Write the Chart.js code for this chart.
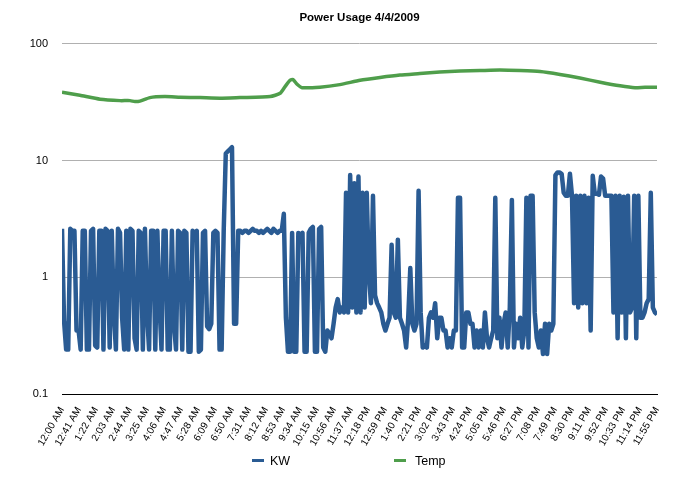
<!DOCTYPE html>
<html>
<head>
<meta charset="utf-8">
<title>Power Usage 4/4/2009</title>
<script src="https://cdn.jsdelivr.net/npm/chart.js@4.4.1/dist/chart.umd.min.js"></script>
<style>
  body { margin: 0; background: #fff; font-family: 'Liberation Sans', Arial, sans-serif; }
  #wrap { position: relative; width: 686px; height: 486px; }
  .swatch { position: absolute; top: 459px; width: 12px; height: 3px; }
  .legend-text { position: absolute; top: 453px; font-size: 12.5px; line-height: 16px; color: #000; }
</style>
</head>
<body>
<div id="wrap">
  <canvas id="powerChart" width="686" height="486"></canvas>
  <div class="swatch" style="left:252px; background:#2a5b93;"></div>
  <div class="legend-text" style="left:270px;">KW</div>
  <div class="swatch" style="left:394px; background:#4f9e4b;"></div>
  <div class="legend-text" style="left:415px;">Temp</div>
</div>
<script>
// one KW reading every 5 minutes, 12:00 AM .. 11:55 PM (one row per hour)
const SAMPLE_STEP = 5;
const kwValues = [
  2.6, 0.42, 0.24, 0.24, 2.6, 2.5, 2.5, 0.35, 0.35, 0.24, 2.5, 2.5,
  0.24, 0.24, 2.5, 2.6, 0.26, 0.25, 2.5, 2.5, 0.24, 2.6, 2.5, 0.25,
  2.5, 0.5, 0.24, 2.6, 2.4, 0.45, 0.24, 2.5, 0.24, 2.6, 2.5, 0.3,
  0.24, 2.5, 2.4, 0.24, 2.6, 0.5, 0.24, 2.5, 2.5, 0.24, 2.5, 0.6,
  0.24, 2.5, 2.5, 0.24, 0.24, 2.5, 0.4, 0.24, 2.5, 2.4, 0.24, 2.5,
  2.4, 0.23, 0.23, 2.5, 2.4, 2.5, 0.23, 0.24, 2.4, 2.5, 0.38, 0.36,
  0.4, 2.4, 2.5, 2.4, 0.24, 0.24, 2.5, 11.5, 12, 12.5, 13, 0.4,
  0.4, 2.5, 2.5, 2.4, 2.5, 2.5, 2.4, 2.5, 2.6, 2.5, 2.5, 2.4,
  2.5, 2.4, 2.5, 2.6, 2.5, 2.4, 2.6, 2.5, 2.4, 2.5, 2.5, 3.5,
  0.45, 0.23, 0.23, 2.4, 0.23, 0.23, 2.4, 2.3, 2.4, 0.23, 0.23, 2.4,
  2.6, 2.7, 0.23, 0.23, 2.6, 2.7, 0.25, 0.23, 0.35, 0.33, 0.3, 0.4,
  0.55, 0.65, 0.5, 0.55, 0.5, 5.3, 0.5, 7.5, 0.55, 6.4, 0.5, 7.3,
  0.5, 5.3, 0.55, 5.3, 1.1, 0.6, 5.0, 0.7, 0.6, 0.55, 0.5, 0.4,
  0.35, 0.4, 0.45, 1.9, 0.5, 0.45, 2.1, 0.45, 0.4, 0.35, 0.25, 0.45,
  1.2, 0.4, 0.35, 0.4, 5.5, 0.5, 0.25, 0.26, 0.25, 0.45, 0.5, 0.45,
  0.6, 0.3, 0.45, 0.45, 0.35, 0.35, 0.25, 0.3, 0.25, 0.35, 0.35, 4.8,
  4.8, 0.25, 0.25, 0.5, 0.5, 0.4, 0.4, 0.25, 0.35, 0.25, 0.35, 0.25,
  0.5, 0.3, 0.25, 0.3, 0.35, 4.8, 0.3, 0.45, 0.25, 0.4, 0.5, 0.25,
  0.55, 4.6, 0.25, 0.4, 0.3, 0.45, 0.25, 0.35, 4.8, 0.25, 5.0, 5.0,
  0.5, 0.3, 0.25, 0.35, 0.22, 0.4, 0.22, 0.4, 0.35, 0.4, 7.5, 7.9,
  7.9, 7.7, 5.3, 5.0, 5.0, 7.7, 5.0, 0.6, 5.0, 0.55, 5.0, 0.6,
  5.0, 0.6, 4.8, 0.35, 7.4, 5.2, 5.2, 5.1, 7.3, 7.0, 5.0, 5.0,
  5.0, 5.0, 0.5, 5.0, 0.3, 5.0, 0.5, 4.9, 0.3, 5.0, 0.5, 0.55,
  5.0, 0.3, 5.0, 0.45, 0.45, 0.5, 0.6, 0.65, 5.3, 0.55, 0.5, 0.48
];

// temperature, minutes after midnight -> degrees
const tempMinutes = [0, 43, 92, 140, 164, 176, 188, 212, 248, 285, 333, 381, 429, 502, 526, 538, 550, 557, 567, 579,
  622, 670, 719, 767, 815, 863, 911, 960, 1008, 1056, 1105, 1153, 1201, 1249, 1298, 1346, 1382, 1406, 1435];
const tempValues = [38.5, 36.2, 33.5, 32.6, 32.6, 32, 32.3, 34.6, 35.3, 34.9, 34.6, 34.2, 34.6, 35.3, 37.7, 43, 48.7, 49.5, 45, 42.1,
  42.5, 44.7, 48.7, 51.5, 54, 55.6, 57.3, 58.4, 59, 59.6, 59, 57.8, 54.6, 50.9, 46.9, 43.7, 42.1, 42.5, 42.5];

// x ticks every 41 minutes
const TICK_STEP = 41;
const xTickLabels = ['12:00 AM', '12:41 AM', '1:22 AM', '2:03 AM', '2:44 AM', '3:25 AM', '4:06 AM', '4:47 AM', '5:28 AM',
  '6:09 AM', '6:50 AM', '7:31 AM', '8:12 AM', '8:53 AM', '9:34 AM', '10:15 AM', '10:56 AM', '11:37 AM', '12:18 PM',
  '12:59 PM', '1:40 PM', '2:21 PM', '3:02 PM', '3:43 PM', '4:24 PM', '5:05 PM', '5:46 PM', '6:27 PM', '7:08 PM',
  '7:49 PM', '8:30 PM', '9:11 PM', '9:52 PM', '10:33 PM', '11:14 PM', '11:55 PM'];
const yTickValues = [0.1, 1, 10, 100];
const yTickLabels = ['0.1', '1', '10', '100'];

const FONT = "'Liberation Sans', Arial, Helvetica, sans-serif";

const ctx = document.getElementById('powerChart').getContext('2d');
new Chart(ctx, {
  type: 'line',
  data: {
    datasets: [
      {
        label: 'KW',
        data: kwValues.map((v, i) => ({ x: i * SAMPLE_STEP, y: v })),
        borderColor: '#2a5b93',
        borderWidth: 4.5,
        borderJoinStyle: 'round',
        pointRadius: 0,
        tension: 0
      },
      {
        label: 'Temp',
        data: tempMinutes.map((m, i) => ({ x: m, y: tempValues[i] })),
        borderColor: '#4f9e4b',
        borderWidth: 3.5,
        pointRadius: 0,
        tension: 0.2
      }
    ]
  },
  options: {
    responsive: false,
    animation: false,
    layout: { padding: { left: 0, right: 29, top: 0, bottom: 0 } },
    plugins: {
      legend: { display: false },
      tooltip: { enabled: false },
      title: {
        display: true,
        fullSize: false,
        text: 'Power Usage 4/4/2009',
        color: '#000',
        font: { family: FONT, size: 11.5, weight: 'bold' },
        padding: { top: 11, bottom: 19 }
      }
    },
    scales: {
      x: {
        type: 'linear',
        min: 0,
        max: 1435,
        grid: { display: false },
        border: { display: true, color: '#000', width: 1 },
        afterBuildTicks: (s) => { s.ticks = xTickLabels.map((_, i) => ({ value: i * TICK_STEP })); },
        afterFit: (s) => { s.height = 92; },
        ticks: {
          autoSkip: false,
          minRotation: 60,
          maxRotation: 60,
          padding: 3,
          color: '#000',
          font: { family: FONT, size: 10 },
          callback: (v, i) => xTickLabels[i]
        }
      },
      y: {
        type: 'logarithmic',
        min: 0.1,
        max: 100,
        afterBuildTicks: (s) => { s.ticks = yTickValues.map(v => ({ value: v })); },
        afterFit: (s) => { s.width = 62; },
        grid: { color: '#b0b0b0', drawTicks: false },
        border: { display: false },
        ticks: {
          padding: 14,
          color: '#000',
          font: { family: FONT, size: 11 },
          callback: (v, i) => yTickLabels[i]
        }
      }
    }
  }
});
</script>
</body>
</html>
